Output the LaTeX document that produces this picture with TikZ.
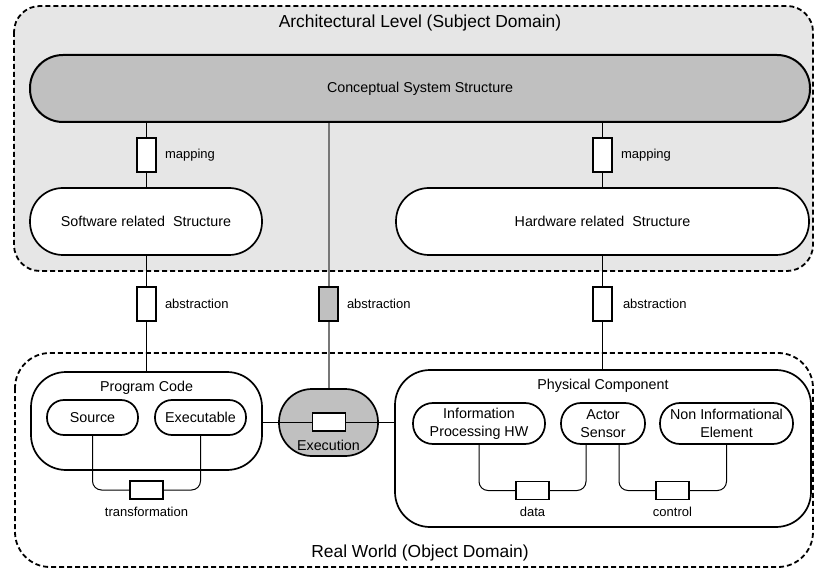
\documentclass[tikz,border=0pt]{standalone}
\usepackage{fontspec}
\setmainfont{Liberation Sans}
\definecolor{archgray}{HTML}{E6E6E6}
\definecolor{conceptgray}{HTML}{C0C0C0}
\definecolor{linegray}{HTML}{777777}

\begin{document}
\begin{tikzpicture}[x=1pt,y=-1pt,
  area/.style={line width=1.8pt, dash pattern=on 5pt off 3pt},
  pill/.style={draw, line width=1.7pt, fill=white, inner sep=0pt, align=center,
    font=\fontsize{14.3}{18}\selectfont},
  relbox/.style={draw, line width=1.6pt, fill=white, inner sep=0pt},
  vbox/.style={relbox, minimum width=19, minimum height=34},
  hbox/.style={relbox, minimum width=33, minimum height=18},
  tag/.style={inner sep=0pt, font=\fontsize{13}{15}\selectfont},
  title/.style={inner sep=0pt, font=\fontsize{17.4}{20}\selectfont},
  link/.style={line width=1pt}]
\useasboundingbox (0,0) rectangle (814,569);

% the two domains
\draw[area, fill=archgray, rounded corners=26] (14,6) rectangle (813,271);
\draw[area, rounded corners=35] (15,353) rectangle (813,567);
\node[title] (archtitle) at (420,23) {Architectural Level (Subject Domain)};
\node[title] (realtitle) at (420,553) {Real World (Object Domain)};

% architectural level
\node[pill, fill=conceptgray, line width=2pt, minimum width=780, minimum height=67, rounded corners=33] (concept) at (420,88.5) {Conceptual System Structure};
\node[pill, minimum width=232, minimum height=67, rounded corners=33] (sw) at (146,221.5) {Software related\ \ Structure};
\node[pill, minimum width=413, minimum height=67, rounded corners=33] (hw) at (602.5,221.5) {Hardware related\ \ Structure};

\node[vbox] (map1) at (146.5,155) {};
\node[vbox] (map2) at (602.5,155) {};
\node[tag, anchor=west] at ([xshift=8]map1.east) {mapping};
\node[tag, anchor=west] at ([xshift=8]map2.east) {mapping};

\node[vbox] (abs1) at (146.5,304) {};
\node[vbox, fill=conceptgray] (abs2) at (328.5,304) {};
\node[vbox] (abs3) at (602.5,304) {};
\node[tag, anchor=west] at ([xshift=8]abs1.east) {abstraction};
\node[tag, anchor=west] at ([xshift=8]abs2.east) {abstraction};
\node[tag, anchor=west] at ([xshift=10]abs3.east) {abstraction};

% real world
\node[pill, minimum width=231, minimum height=98, rounded corners=35] (pc) at (146.5,421) {};
\node[pill, fill=none, draw=none] (pctitle) at (146.5,388) {Program Code};
\node[pill, minimum width=91, minimum height=35, rounded corners=17] (src) at (92.5,417.5) {Source};
\node[pill, minimum width=91, minimum height=35, rounded corners=17] (exe) at (200.5,417.5) {Executable};
\node[hbox] (trans) at (146.5,490) {};
\node[tag] at (146.5,512) {transformation};

\node[pill, fill=conceptgray, minimum width=99, minimum height=67, rounded corners=33] (execn) at (328.5,422.5) {};
\node[hbox] (execbox) at (329,422) {};
\node[pill, fill=none, draw=none] at (328.5,445) {Execution};

\node[pill, minimum width=416, minimum height=157, rounded corners=35] (phys) at (603,448.5) {};
\node[pill, fill=none, draw=none] (phystitle) at (603,386) {Physical Component};
\node[pill, minimum width=132, minimum height=41, rounded corners=20] (info) at (479,423.5) {Information\\Processing HW};
\node[pill, minimum width=84, minimum height=41, rounded corners=20] (actor) at (603,423.5) {Actor\\Sensor};
\node[pill, minimum width=133, minimum height=41, rounded corners=20] (noninfo) at (726.5,423.5) {Non Informational\\Element};
\node[hbox] (data) at (532.5,490.5) {};
\node[tag] at (532.5,512) {data};
\node[hbox] (ctrl) at (672.5,490.5) {};
\node[tag] at (672.5,512) {control};

% relations
\draw[link] (concept.south -| map1) -- (map1.north);
\draw[link] (map1.south) -- (sw.north -| map1);
\draw[link] (concept.south -| map2) -- (map2.north);
\draw[link] (map2.south) -- (hw.north -| map2);
\draw[link] (sw.south -| abs1) -- (abs1.north);
\draw[link] (abs1.south) -- (pc.north -| abs1);
\draw[link] (hw.south -| abs3) -- (abs3.north);
\draw[link] (abs3.south) -- (phys.north -| abs3);
\draw[line width=2pt, linegray] (concept.south -| abs2) -- (abs2.north);
\draw[line width=2pt, linegray] (abs2.south) -- (execn.north -| abs2);
\draw[link] (pc.east |- execbox) -- (execbox.west);
\draw[link] (execbox.east) -- (phys.west |- execbox);
\draw[link, rounded corners=9] (src.south) |- (trans.west);
\draw[link, rounded corners=9] (exe.south) |- (trans.east);
\draw[link, rounded corners=9] (info.south) |- (data.west);
\draw[link, rounded corners=9] ([xshift=-17]actor.south) |- (data.east);
\draw[link, rounded corners=9] ([xshift=16]actor.south) |- (ctrl.west);
\draw[link, rounded corners=9] (noninfo.south) |- (ctrl.east);
\end{tikzpicture}
\end{document}
